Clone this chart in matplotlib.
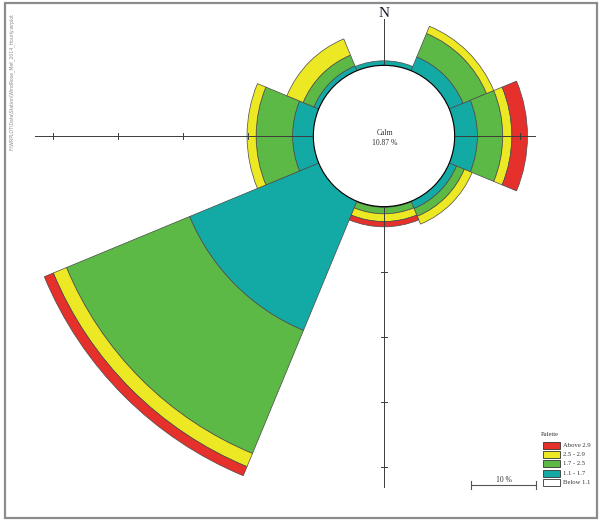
import numpy as np
import matplotlib
matplotlib.use("Agg")
import matplotlib.pyplot as plt
from matplotlib.patches import Rectangle
from matplotlib.lines import Line2D

W, H = 601, 522

# wind directions (compass bearings, deg) and frequencies (%) per speed class
directions = ["N", "NE", "E", "SE", "S", "SW", "W", "NW"]
bearings = [0, 45, 90, 135, 180, 225, 270, 315]
calm_pct = 10.87
freq_1_1_to_1_7 = [0.7, 2.3, 3.5, 1.2, 0.1, 21.5, 3.2, 0.8]
freq_1_7_to_2_5 = [0.0, 3.9, 3.9, 1.3, 1.0, 20.5, 5.6, 1.8]
freq_2_5_to_2_9 = [0.0, 1.2, 1.4, 1.3, 1.2, 2.2, 1.4, 2.7]
freq_above_2_9 = [0.0, 0.0, 2.4, 0.0, 0.8, 1.5, 0.0, 0.0]

class_labels = ["Above 2.9", "2.5 - 2.9", "1.7 - 2.5", "1.1 - 1.7", "Below 1.1"]
class_colors = ["#e5302b", "#ece823", "#5cb946", "#13aaa6", "#ffffff"]

# length of the cross-hair arms (%) : N, E, S, W
arm_bearings = [0, 90, 180, 270]
arm_lengths = [7.1, 12.4, 43.2, 42.8]
ring_ticks = [10, 20, 30, 40]
scale_pct = 10

SERIF = ["Liberation Serif", "DejaVu Serif"]

RMAX = 47.0
PX_PER_PCT = 6.5
cx, cy = 384, 136          # rose centre (pixels from top-left)
R_px = PX_PER_PCT * (RMAX + calm_pct)

fig = plt.figure(figsize=(W / 100, H / 100), dpi=100)
fig.patch.set_facecolor("white")

ax = fig.add_axes([(cx - R_px) / W, (H - cy - R_px) / H, 2 * R_px / W, 2 * R_px / H],
                  projection="polar")
ax.set_theta_zero_location("N")
ax.set_theta_direction(-1)
ax.set_rorigin(-calm_pct)
ax.set_rlim(0, RMAX)
ax.grid(False)
ax.set_xticks([])
ax.set_yticks([])
for sp in ax.spines.values():
    sp.set_visible(False)
ax.patch.set_alpha(0)

theta = np.radians(bearings)
width = np.radians(45)
bottom = np.zeros(len(bearings))
stack = [freq_1_1_to_1_7, freq_1_7_to_2_5, freq_2_5_to_2_9, freq_above_2_9]
stack_colors = [class_colors[3], class_colors[2], class_colors[1], class_colors[0]]
for vals, col in zip(stack, stack_colors):
    vals = np.array(vals)
    m = vals > 0
    ax.bar(theta[m], vals[m], width=width, bottom=bottom[m], color=col,
           edgecolor="#4a4a4a", linewidth=0.5, zorder=2)
    bottom += vals

# cross-hair arms with % ticks
for b, L in zip(arm_bearings, arm_lengths):
    t = np.radians(b)
    ax.plot([t, t], [0, L], color="#3c3c3c", lw=0.7, zorder=3)
    for rt in ring_ticks:
        if rt < L:
            d = 3.0 / ((rt + calm_pct) * PX_PER_PCT)
            ax.plot([t - d, t + d], [rt, rt], color="#3c3c3c", lw=0.7, zorder=3)

ax.text(0, 7.9, "N", ha="center", va="center", fontsize=11,
        family=SERIF, color="#1a1a2e", zorder=4)

def fx(x):
    return x / W

def fy(y):
    return 1 - y / H

fig.text(fx(cx + 1), fy(133), "Calm", ha="center", va="center",
         fontsize=5.5, family=SERIF, color="#333333")
fig.text(fx(cx + 1), fy(143), f"{calm_pct:.2f} %", ha="center", va="center",
         fontsize=5.5, family=SERIF, color="#333333")

# palette legend
fig.text(fx(541), fy(435), "Palette", ha="left", va="center",
         fontsize=4.8, family=SERIF, color="#333333")
for i, (lab, col) in enumerate(zip(class_labels, class_colors)):
    ytop = 442 + i * 9.2
    fig.add_artist(Rectangle((fx(543), fy(ytop + 7)), 17 / W, 7 / H,
                             transform=fig.transFigure, facecolor=col,
                             edgecolor="#333333", linewidth=0.6))
    fig.text(fx(563), fy(ytop + 3.5), lab, ha="left", va="center",
             fontsize=4.8, family=SERIF, color="#333333")

# scale bar
x0 = 471
x1 = x0 + scale_pct * PX_PER_PCT
ys = 485
fig.add_artist(Line2D([fx(x0), fx(x1)], [fy(ys), fy(ys)], color="#555555", lw=0.8))
for xe in (x0, x1):
    fig.add_artist(Line2D([fx(xe), fx(xe)], [fy(ys - 4), fy(ys + 4)],
                          color="#555555", lw=0.8))
fig.text(fx((x0 + x1) / 2), fy(480), f"{scale_pct} %", ha="center", va="center",
         fontsize=5.5, family=SERIF, color="#333333")

# source file path along the left edge
fig.text(fx(12), fy(82), r"F:\WRPLOT\Data\Station\WindRose_Met_2014_Hourly.wrplot",
         rotation=90, ha="center", va="center", fontsize=3.3, color="#8a8a8a")

# page frame
fig.add_artist(Rectangle((fx(5), fy(518)), 592 / W, 515 / H, transform=fig.transFigure,
                         fill=False, edgecolor="#8c8c8c", linewidth=1.6))

fig.savefig("out.png", dpi=100)
